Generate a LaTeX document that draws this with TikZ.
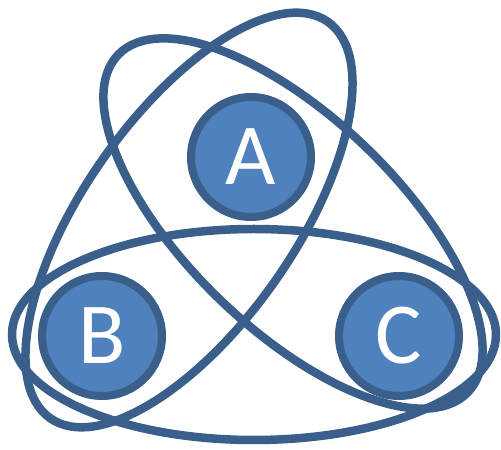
\documentclass[tikz,border=0pt]{standalone}
\usepackage{fontspec}
\setmainfont{Carlito}
\usepackage{xcolor}
\usepackage{tikz}
\usetikzlibrary{shapes,positioning}

\definecolor{ringblue}{HTML}{3A5F8B}
\definecolor{ballblue}{HTML}{4F81BD}

\begin{document}
\begin{tikzpicture}[
  x=1pt, y=1pt,
  every node/.style={font=\fontsize{87}{87}\selectfont},
  orbit/.style={draw=ringblue, line width=8.5pt},
  ball/.style={circle, draw=ringblue, fill=ballblue, line width=8pt, minimum size=120pt, inner sep=0pt, text=white}
]
\useasboundingbox (0,0) rectangle (501,450);

% Centres of the orbits
\coordinate (ob) at (254,115.5);
\coordinate (oab) at (189,230);
\coordinate (oac) at (293,226.5);

% Orbits
\draw[orbit] (ob) ellipse [x radius=242, y radius=105.5];
\draw[orbit, rotate around={55:(oab)}] (oab) ellipse [x radius=242, y radius=105.5];
\draw[orbit, rotate around={-44:(oac)}] (oac) ellipse [x radius=243, y radius=105.5];

% Balls
\node[ball] (A) at (251,293) {A};
\node[ball] (B) at (102,114) {B};
\node[ball] (C) at (399,114) {C};

\end{tikzpicture}
\end{document}
